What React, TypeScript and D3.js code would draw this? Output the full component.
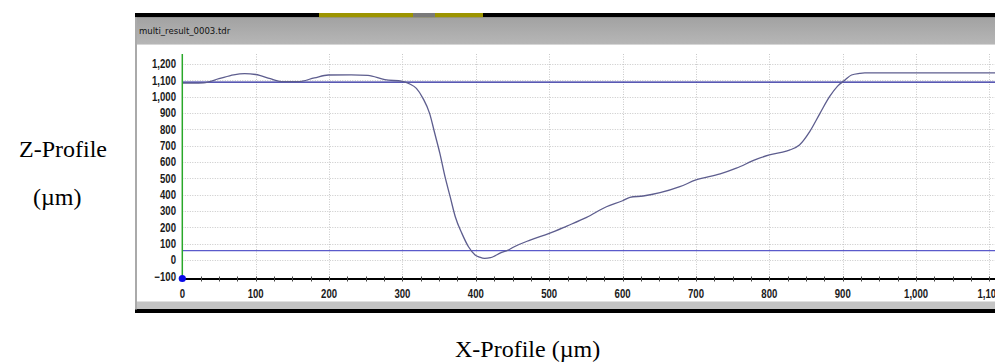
import * as d3 from 'd3';
import { useEffect, useRef } from 'react';

const width = 995;
const height = 364;

// profile (x in µm, z in µm)
const profileX = [
  0, 15, 29, 50, 70, 85, 100, 120, 135, 158, 180, 199, 230, 253, 276, 300, 310, 319, 328, 337, 344,
  351, 358, 365, 372, 381, 390, 399, 405, 412, 420, 426, 433, 444, 451, 474, 500, 524, 551, 578, 600,
  610, 628, 651, 678, 700, 733, 755, 782, 800, 823, 828, 841, 855, 869, 882, 893, 903, 912, 923, 930,
  1000, 1108,
];
const profileZ = [
  1084, 1083, 1085, 1110, 1134, 1141, 1136, 1110, 1092, 1092, 1115, 1133, 1134, 1131, 1104, 1094, 1078,
  1051, 990, 898, 776, 653, 510, 388, 265, 163, 81, 31, 18, 10, 14, 25, 42, 60, 78, 122, 163, 208, 261,
  326, 363, 384, 392, 412, 449, 490, 527, 562, 616, 643, 667, 674, 704, 786, 898, 1000, 1065, 1102,
  1133, 1143, 1146, 1146, 1146,
];

// reference levels (blue horizontal lines)
const refLevels = [1089, 57];
const refColors = ['#22229a', '#5a5acb'];

const xTicks = [0, 100, 200, 300, 400, 500, 600, 700, 800, 900, 1000, 1100];
const yTicks = [-100, 0, 100, 200, 300, 400, 500, 600, 700, 800, 900, 1000, 1100, 1200];

const title = 'multi_result_0003.tdr';

export default function App() {
  const ref = useRef<SVGSVGElement>(null);

  useEffect(() => {
    const svg = d3.select(ref.current);
    svg.selectAll('*').remove();

    const plot = { left: 182.3, right: 995, top: 54, bottom: 279 };
    const x = d3.scaleLinear().domain([0, 1107.5]).range([plot.left, plot.right]);
    const y = d3.scaleLinear().domain([0, 1200]).range([260, 64.04]);
    const fmt = d3.format(',');
    // narrow bold look of the instrument software
    const tickFont = "'Liberation Sans', Arial, sans-serif";
    const squeeze = 0.8;

    svg.append('rect').attr('width', width).attr('height', height).attr('fill', '#fff');

    // window chrome
    const defs = svg.append('defs');
    const grad = defs
      .append('linearGradient')
      .attr('id', 'titlebar')
      .attr('x1', 0)
      .attr('y1', 0)
      .attr('x2', 0)
      .attr('y2', 1);
    grad.append('stop').attr('offset', '0%').attr('stop-color', '#a2a2a2');
    grad.append('stop').attr('offset', '100%').attr('stop-color', '#b6b6b6');

    svg.append('rect').attr('x', 135).attr('y', 13).attr('width', width - 135).attr('height', 4.5).attr('fill', '#000');
    svg.append('rect').attr('x', 319).attr('y', 13).attr('width', 164).attr('height', 4.5).attr('fill', '#9c9400');
    svg.append('rect').attr('x', 413).attr('y', 13).attr('width', 22).attr('height', 4.5).attr('fill', '#7a7a7a');
    svg.append('rect').attr('x', 135).attr('y', 17.5).attr('width', width - 135).attr('height', 26.5).attr('fill', 'url(#titlebar)');
    svg.append('line').attr('x1', 135).attr('x2', width).attr('y1', 44.5).attr('y2', 44.5).attr('stroke', '#d6d6d6');
    svg
      .append('text')
      .attr('x', 139)
      .attr('y', 34)
      .attr('font-family', "'DejaVu Sans Condensed', 'Liberation Sans', sans-serif")
      .attr('font-size', 9.5)
      .attr('fill', '#111')
      .text(title);

    svg.append('rect').attr('x', 135).attr('y', 301.5).attr('width', width - 135).attr('height', 8).attr('fill', '#c4c4c4');
    svg.append('rect').attr('x', 135).attr('y', 309).attr('width', width - 135).attr('height', 4).attr('fill', '#000');
    svg.append('rect').attr('x', 135).attr('y', 17.5).attr('width', 2).attr('height', 292).attr('fill', '#aaaaaa');

    // grid
    const grid = svg
      .append('g')
      .attr('stroke', '#c8c8c8')
      .attr('stroke-width', 1)
      .attr('stroke-dasharray', '1,1.5');
    grid
      .selectAll('line.h')
      .data(yTicks.filter((d) => d >= 0))
      .join('line')
      .attr('class', 'h')
      .attr('x1', plot.left)
      .attr('x2', plot.right)
      .attr('y1', (d) => Math.round(y(d)) + 0.5)
      .attr('y2', (d) => Math.round(y(d)) + 0.5);
    grid
      .selectAll('line.v')
      .data(xTicks.filter((d) => d > 0))
      .join('line')
      .attr('class', 'v')
      .attr('x1', (d) => Math.round(x(d)) + 0.5)
      .attr('x2', (d) => Math.round(x(d)) + 0.5)
      .attr('y1', plot.top)
      .attr('y2', plot.bottom);

    // reference lines
    svg
      .selectAll('line.ref')
      .data(refLevels)
      .join('line')
      .attr('class', 'ref')
      .attr('x1', plot.left)
      .attr('x2', plot.right)
      .attr('y1', (d) => y(d))
      .attr('y2', (d) => y(d))
      .attr('stroke', (d, i) => refColors[i])
      .attr('stroke-width', 1.3);

    // profile
    const line = d3
      .line<number>()
      .x((d, i) => x(profileX[i]))
      .y((d) => y(d))
      .curve(d3.curveMonotoneX);
    svg
      .append('path')
      .attr('d', line(profileZ))
      .attr('fill', 'none')
      .attr('stroke', '#5d5d8e')
      .attr('stroke-width', 1.3);

    // x axis
    svg
      .append('line')
      .attr('x1', plot.left)
      .attr('x2', plot.right)
      .attr('y1', plot.bottom)
      .attr('y2', plot.bottom)
      .attr('stroke', '#000')
      .attr('stroke-width', 2);
    svg
      .append('g')
      .attr('stroke', '#444')
      .selectAll('line')
      .data(d3.range(25, 1108, 25))
      .join('line')
      .attr('x1', (d) => Math.round(x(d)) + 0.5)
      .attr('x2', (d) => Math.round(x(d)) + 0.5)
      .attr('y1', plot.bottom - 2.5)
      .attr('y2', plot.bottom + 2.5);

    svg
      .append('g')
      .attr('font-family', tickFont)
      .attr('font-weight', 'bold')
      .attr('font-size', 12)
      .attr('fill', '#1a1a1a')
      .attr('text-anchor', 'middle')
      .selectAll('text')
      .data(xTicks)
      .join('text')
      .attr('transform', (d) => `translate(${x(d)},297.5) scale(${squeeze},1)`)
      .text((d) => fmt(d));

    svg
      .append('g')
      .attr('font-family', tickFont)
      .attr('font-weight', 'bold')
      .attr('font-size', 12)
      .attr('fill', '#1a1a1a')
      .attr('text-anchor', 'end')
      .selectAll('text')
      .data(yTicks)
      .join('text')
      .attr('transform', (d) => `translate(176,${y(d) + 4.3}) scale(${squeeze},1)`)
      .text((d) => fmt(d));

    // y axis (green) and origin marker
    svg
      .append('line')
      .attr('x1', plot.left)
      .attr('x2', plot.left)
      .attr('y1', plot.top)
      .attr('y2', plot.bottom)
      .attr('stroke', '#2aa82a')
      .attr('stroke-width', 1.5);
    svg.append('circle').attr('cx', plot.left).attr('cy', 278.5).attr('r', 3.6).attr('fill', '#0a0ae8');

    // outer axis titles
    const serif = "'Liberation Serif', 'Times New Roman', serif";
    svg.append('text').attr('x', 19).attr('y', 157).attr('font-family', serif).attr('font-size', 24).attr('fill', '#000').text('Z-Profile');
    svg.append('text').attr('x', 33).attr('y', 205).attr('font-family', serif).attr('font-size', 24).attr('fill', '#000').text('(µm)');
    svg.append('text').attr('x', 455).attr('y', 357).attr('font-family', serif).attr('font-size', 24).attr('fill', '#000').text('X-Profile (µm)');
  }, []);

  return (
    <div style={{ position: 'absolute', left: 0, top: 0 }}>
      <svg ref={ref} width={width} height={height} style={{ display: 'block' }}></svg>
    </div>
  );
}
